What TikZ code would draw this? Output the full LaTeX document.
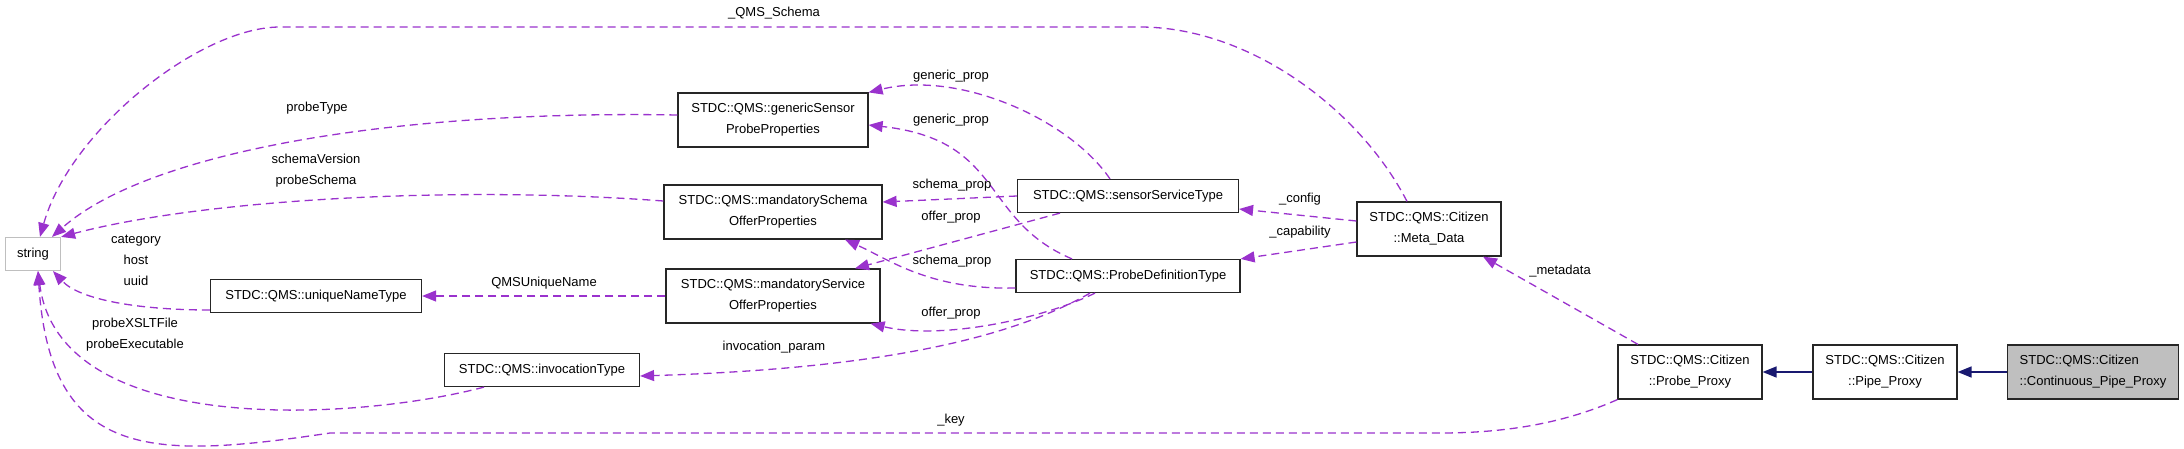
\documentclass[tikz,border=0pt]{standalone}
\usepackage{fontspec}
\setmainfont{Liberation Sans}
\usetikzlibrary{arrows.meta}
\definecolor{relpurple}{HTML}{9A32CD}
\definecolor{inhblue}{HTML}{191970}
\definecolor{boxgray}{HTML}{BFBFBF}
\tikzset{
    cls/.style={draw=black!85, line width=1.2pt, minimum height=33pt, inner sep=0pt,
        font=\fontsize{13}{21}\selectfont, align=center},
    cls2/.style={cls, minimum height=54pt},
    lbl/.style={inner sep=0pt, font=\fontsize{13}{21}\selectfont, align=center},
    reledge/.style={relpurple, line width=1.3pt, dash pattern=on 8pt off 5pt,
        -{Triangle[length=14pt,width=11pt]}},
    inhedge/.style={inhblue, line width=1.6pt, -{Triangle[length=14pt,width=11pt]}},
}
\begin{document}
\begin{tikzpicture}[x=1pt, y=-1pt]
    \useasboundingbox (0,0) rectangle (2184,448);

    % 类节点
    \node[cls, draw=boxgray, minimum width=55pt] (str) at (33,254) {string};
    \node[cls2, minimum width=190pt] (gs) at (773,120) {STDC::QMS::genericSensor\\ProbeProperties};
    \node[cls2, minimum width=218pt] (msch) at (773,212) {STDC::QMS::mandatorySchema\\OfferProperties};
    \node[cls2, minimum width=214pt] (msrv) at (773,296) {STDC::QMS::mandatoryService\\OfferProperties};
    \node[cls, minimum width=211pt] (un) at (316,296) {STDC::QMS::uniqueNameType};
    \node[cls, minimum width=195pt] (inv) at (542,370) {STDC::QMS::invocationType};
    \node[cls, minimum width=221pt] (sst) at (1128,196) {STDC::QMS::sensorServiceType};
    \node[cls, minimum width=224pt] (pdt) at (1128,276) {STDC::QMS::ProbeDefinitionType};
    \node[cls2, minimum width=144pt] (md) at (1429,229) {STDC::QMS::Citizen\\::Meta\_Data};
    \node[cls2, minimum width=144pt] (pp) at (1690,372) {STDC::QMS::Citizen\\::Probe\_Proxy};
    \node[cls2, minimum width=144pt] (pipe) at (1885,372) {STDC::QMS::Citizen\\::Pipe\_Proxy};
    \node[cls2, fill=boxgray, align=left, minimum width=171pt] (cpp) at (2093,372) {STDC::QMS::Citizen\\::Continuous\_Pipe\_Proxy};

    % 继承关系
    \draw[inhedge] (pipe.west) -- (pp.east);
    \draw[inhedge] (cpp.west) -- (pipe.east);

    % 成员关系：指向 string
    \draw[reledge] ([xshift=-22pt]md.north) .. controls (1360,110) and (1250,27) .. (1140,27)
        -- (280,27) .. controls (200,27) and (70,130) .. ([xshift=7pt]str.north);
    \draw[reledge] ([yshift=5pt]gs.west) .. controls (400,110) and (150,150) .. ([xshift=19pt]str.north);
    \draw[reledge] ([yshift=11pt]msch.west) .. controls (450,185) and (200,200) .. (str.north east);
    \draw[reledge] ([yshift=-14pt]un.west) .. controls (140,310) and (80,300) .. ([xshift=20pt]str.south);
    \draw[reledge] ([xshift=-58pt]inv.south) .. controls (360,420) and (60,440) .. ([xshift=5pt]str.south);
    \draw[reledge] (pp.south west) .. controls (1560,425) and (1500,433) .. (1440,433)
        -- (330,433) .. controls (150,460) and (50,460) .. ([xshift=5pt]str.south);

    % 成员关系：中间部分
    \draw[reledge] ([xshift=-18pt]sst.north) .. controls (1070,120) and (960,70) .. (gs.north east);
    \draw[reledge] ([xshift=-56pt]pdt.north) .. controls (980,220) and (1005,140) .. ([yshift=-5pt]gs.east);
    \draw[reledge] (sst.west) -- ([yshift=10pt]msch.east);
    \draw[reledge] ([xshift=-68pt]sst.south) -- ([xshift=82pt]msrv.north);
    \draw[reledge] ([yshift=-12pt]pdt.west) .. controls (930,290) and (890,260) .. ([xshift=72pt]msch.south);
    \draw[reledge] ([xshift=-33pt]pdt.south) .. controls (1040,320) and (940,340) .. ([xshift=-10pt]msrv.south east);
    \draw[reledge] ([xshift=-38pt]pdt.south) .. controls (990,350) and (830,370) .. ([yshift=-6pt]inv.east);
    \draw[reledge] (msrv.west) -- (un.east);
    \draw[reledge] ([yshift=8pt]md.west) -- ([yshift=-13pt]sst.east);
    \draw[reledge] ([yshift=-13pt]md.west) -- (pdt.north east);
    \draw[reledge] ([xshift=-52pt]pp.north) -- ([xshift=54pt]md.south);

    % 标签
    \node[lbl] (lqms) at (774,13) {\_QMS\_Schema};
    \node[lbl] (lptype) at (317,108) {probeType};
    \node[lbl] (lschema) at (316,170.5) {schemaVersion\\probeSchema};
    \node[lbl] (luuid) at (136,260) {category\\host\\uuid};
    \node[lbl] (lqmsname) at (544,283) {QMSUniqueName};
    \node[lbl] (lprobe) at (135,334.5) {probeXSLTFile\\probeExecutable};
    \node[lbl] (lgen1) at (951,76) {generic\_prop};
    \node[lbl] (lgen2) at (951,120) {generic\_prop};
    \node[lbl] (lsch1) at (952,185) {schema\_prop};
    \node[lbl] (loff1) at (951,217) {offer\_prop};
    \node[lbl] (lsch2) at (952,261) {schema\_prop};
    \node[lbl] (loff2) at (951,313) {offer\_prop};
    \node[lbl] (linvp) at (774,347) {invocation\_param};
    \node[lbl] (lkey) at (951,420) {\_key};
    \node[lbl] (lcfg) at (1300,199) {\_config};
    \node[lbl] (lcap) at (1300,232) {\_capability};
    \node[lbl] (lmeta) at (1560,271) {\_metadata};
\end{tikzpicture}
\end{document}
